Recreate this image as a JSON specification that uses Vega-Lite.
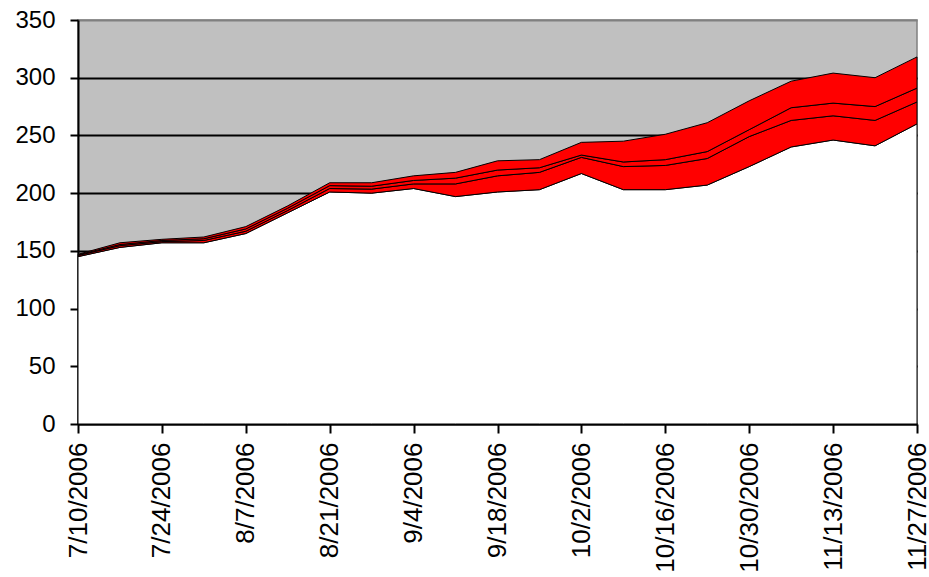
{
  "$schema": "https://vega.github.io/schema/vega-lite/v6.json",
  "width": 839,
  "height": 404,
  "autosize": "none",
  "padding": {"left": 78, "top": 20, "right": 12, "bottom": 153},
  "background": "white",
  "config": {
    "view": {"fill": "#c0c0c0", "stroke": "#808080", "strokeWidth": 1.5},
    "font": "Liberation Sans"
  },
  "data": {
    "values": [
      {"date": "7/10/2006", "series": "A", "value": 145}, {"date": "7/10/2006", "series": "B", "value": 1}, {"date": "7/10/2006", "series": "C", "value": 0.5}, {"date": "7/10/2006", "series": "D", "value": 0.5},
      {"date": "7/17/2006", "series": "A", "value": 153}, {"date": "7/17/2006", "series": "B", "value": 1.5}, {"date": "7/17/2006", "series": "C", "value": 1}, {"date": "7/17/2006", "series": "D", "value": 1.5},
      {"date": "7/24/2006", "series": "A", "value": 157}, {"date": "7/24/2006", "series": "B", "value": 1}, {"date": "7/24/2006", "series": "C", "value": 1}, {"date": "7/24/2006", "series": "D", "value": 1},
      {"date": "7/31/2006", "series": "A", "value": 157}, {"date": "7/31/2006", "series": "B", "value": 2}, {"date": "7/31/2006", "series": "C", "value": 1.5}, {"date": "7/31/2006", "series": "D", "value": 1.5},
      {"date": "8/7/2006", "series": "A", "value": 165}, {"date": "8/7/2006", "series": "B", "value": 2}, {"date": "8/7/2006", "series": "C", "value": 2}, {"date": "8/7/2006", "series": "D", "value": 2},
      {"date": "8/14/2006", "series": "A", "value": 183}, {"date": "8/14/2006", "series": "B", "value": 2}, {"date": "8/14/2006", "series": "C", "value": 2}, {"date": "8/14/2006", "series": "D", "value": 2},
      {"date": "8/21/2006", "series": "A", "value": 201}, {"date": "8/21/2006", "series": "B", "value": 3}, {"date": "8/21/2006", "series": "C", "value": 2.5}, {"date": "8/21/2006", "series": "D", "value": 2.5},
      {"date": "8/28/2006", "series": "A", "value": 200}, {"date": "8/28/2006", "series": "B", "value": 3.5}, {"date": "8/28/2006", "series": "C", "value": 2.5}, {"date": "8/28/2006", "series": "D", "value": 3},
      {"date": "9/4/2006", "series": "A", "value": 204}, {"date": "9/4/2006", "series": "B", "value": 4}, {"date": "9/4/2006", "series": "C", "value": 3}, {"date": "9/4/2006", "series": "D", "value": 4},
      {"date": "9/11/2006", "series": "A", "value": 197}, {"date": "9/11/2006", "series": "B", "value": 11}, {"date": "9/11/2006", "series": "C", "value": 5}, {"date": "9/11/2006", "series": "D", "value": 5},
      {"date": "9/18/2006", "series": "A", "value": 201}, {"date": "9/18/2006", "series": "B", "value": 14}, {"date": "9/18/2006", "series": "C", "value": 5}, {"date": "9/18/2006", "series": "D", "value": 8},
      {"date": "9/25/2006", "series": "A", "value": 203}, {"date": "9/25/2006", "series": "B", "value": 15}, {"date": "9/25/2006", "series": "C", "value": 4}, {"date": "9/25/2006", "series": "D", "value": 7},
      {"date": "10/2/2006", "series": "A", "value": 217}, {"date": "10/2/2006", "series": "B", "value": 14}, {"date": "10/2/2006", "series": "C", "value": 2}, {"date": "10/2/2006", "series": "D", "value": 11},
      {"date": "10/9/2006", "series": "A", "value": 203}, {"date": "10/9/2006", "series": "B", "value": 20}, {"date": "10/9/2006", "series": "C", "value": 4}, {"date": "10/9/2006", "series": "D", "value": 18},
      {"date": "10/16/2006", "series": "A", "value": 203}, {"date": "10/16/2006", "series": "B", "value": 21}, {"date": "10/16/2006", "series": "C", "value": 5}, {"date": "10/16/2006", "series": "D", "value": 22},
      {"date": "10/23/2006", "series": "A", "value": 207}, {"date": "10/23/2006", "series": "B", "value": 23}, {"date": "10/23/2006", "series": "C", "value": 6}, {"date": "10/23/2006", "series": "D", "value": 25},
      {"date": "10/30/2006", "series": "A", "value": 223}, {"date": "10/30/2006", "series": "B", "value": 26}, {"date": "10/30/2006", "series": "C", "value": 6}, {"date": "10/30/2006", "series": "D", "value": 25},
      {"date": "11/6/2006", "series": "A", "value": 240}, {"date": "11/6/2006", "series": "B", "value": 23}, {"date": "11/6/2006", "series": "C", "value": 11}, {"date": "11/6/2006", "series": "D", "value": 23},
      {"date": "11/13/2006", "series": "A", "value": 246}, {"date": "11/13/2006", "series": "B", "value": 21}, {"date": "11/13/2006", "series": "C", "value": 11}, {"date": "11/13/2006", "series": "D", "value": 26},
      {"date": "11/20/2006", "series": "A", "value": 241}, {"date": "11/20/2006", "series": "B", "value": 22}, {"date": "11/20/2006", "series": "C", "value": 12}, {"date": "11/20/2006", "series": "D", "value": 25},
      {"date": "11/27/2006", "series": "A", "value": 260}, {"date": "11/27/2006", "series": "B", "value": 19}, {"date": "11/27/2006", "series": "C", "value": 12}, {"date": "11/27/2006", "series": "D", "value": 27}
    ]
  },
  "mark": {"type": "area", "stroke": "black", "strokeWidth": 1},
  "encoding": {
    "x": {
      "field": "date",
      "type": "ordinal",
      "sort": null,
      "scale": {"type": "point", "padding": 0},
      "axis": {
        "title": null,
        "values": ["7/10/2006", "7/24/2006", "8/7/2006", "8/21/2006", "9/4/2006", "9/18/2006", "10/2/2006", "10/16/2006", "10/30/2006", "11/13/2006", "11/27/2006"],
        "labelAngle": 270,
        "labelAlign": "right",
        "labelBaseline": "middle",
        "labelFontSize": 26,
        "labelColor": "black",
        "labelPadding": 9,
        "labelOverlap": false,
        "labelBound": false,
        "labelFlush": false,
        "tickSize": 9,
        "tickWidth": 2,
        "tickColor": "black",
        "domainColor": "black",
        "domainWidth": 2,
        "grid": false
      }
    },
    "y": {
      "field": "value",
      "type": "quantitative",
      "stack": "zero",
      "scale": {"domain": [0, 350], "nice": false},
      "axis": {
        "title": null,
        "values": [0, 50, 100, 150, 200, 250, 300, 350],
        "labelFontSize": 24,
        "labelColor": "black",
        "labelPadding": 15,
        "tickSize": 8,
        "tickWidth": 2,
        "tickColor": "black",
        "domainColor": "black",
        "domainWidth": 2,
        "grid": true,
        "gridColor": {"condition": {"test": "datum.value === 350", "value": "#808080"}, "value": "black"},
        "gridWidth": 2,
        "gridOpacity": 1
      }
    },
    "color": {
      "field": "series",
      "type": "nominal",
      "scale": {"domain": ["A", "B", "C", "D"], "range": ["white", "#ff0000", "#ff0000", "#ff0000"]},
      "legend": null
    },
    "order": {"field": "series", "sort": "ascending"}
  }
}
